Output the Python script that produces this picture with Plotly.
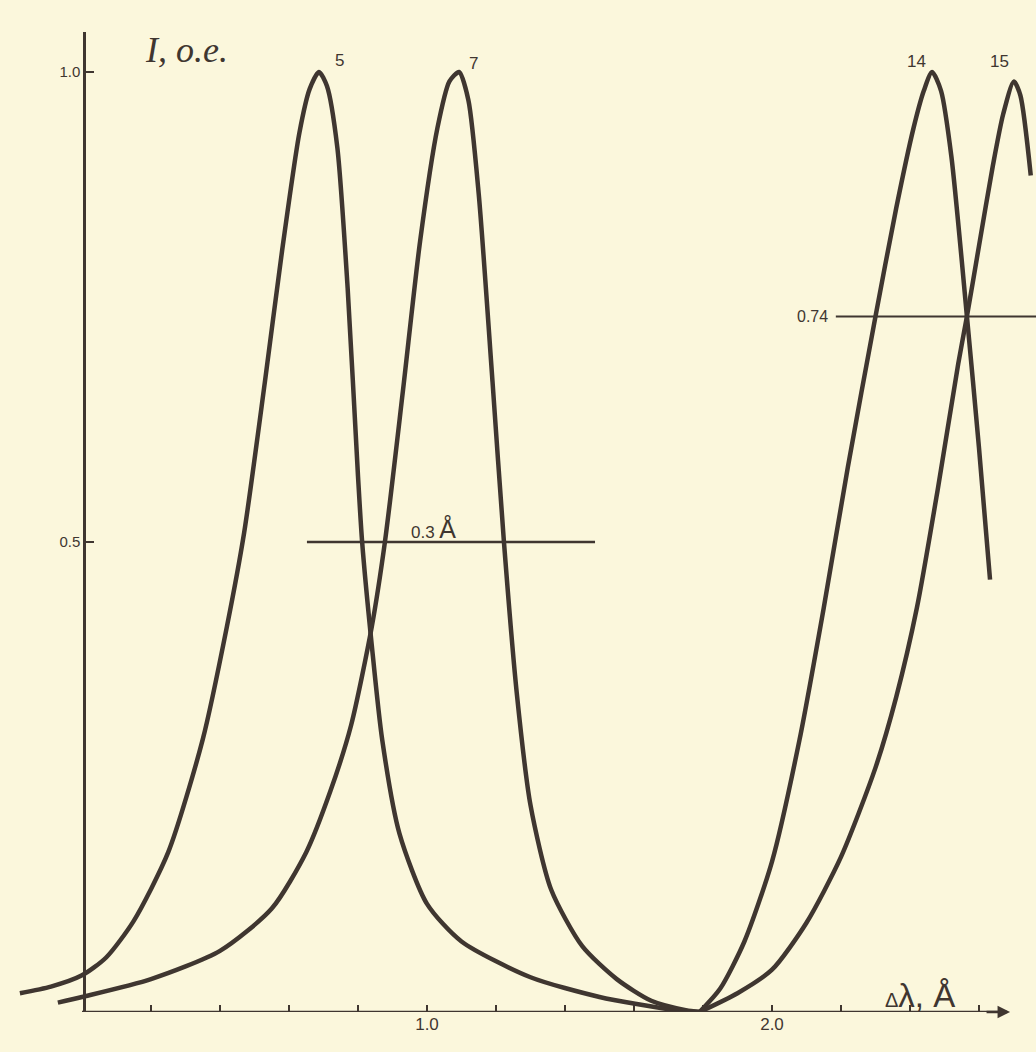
import plotly.graph_objects as go

# ---- data ----
x5 = [-0.18, -0.09, 0.0, 0.07, 0.15, 0.25, 0.35, 0.42, 0.47, 0.53, 0.58, 0.63, 0.66, 0.687, 0.71, 0.74, 0.77, 0.80, 0.812, 0.84, 0.87, 0.92, 1.0, 1.1, 1.3, 1.5, 1.7, 1.79]
y5 = [0.02, 0.027, 0.039, 0.058, 0.097, 0.17, 0.29, 0.41, 0.51, 0.67, 0.81, 0.935, 0.982, 1.0, 0.985, 0.92, 0.77, 0.57, 0.50, 0.39, 0.29, 0.19, 0.115, 0.075, 0.037, 0.016, 0.003, 0.0]

x7 = [-0.07, 0.0, 0.2, 0.4, 0.55, 0.65, 0.72, 0.78, 0.84, 0.878, 0.93, 0.98, 1.03, 1.065, 1.093, 1.12, 1.15, 1.19, 1.223, 1.26, 1.30, 1.36, 1.45, 1.55, 1.65, 1.75, 1.79]
y7 = [0.01, 0.016, 0.035, 0.065, 0.11, 0.17, 0.235, 0.305, 0.41, 0.50, 0.66, 0.82, 0.94, 0.99, 1.0, 0.97, 0.87, 0.67, 0.50, 0.34, 0.22, 0.13, 0.07, 0.035, 0.012, 0.002, 0.0]

x14 = [1.79, 1.85, 1.92, 2.0, 2.08, 2.15, 2.22, 2.30, 2.36, 2.41, 2.44, 2.464, 2.49, 2.52, 2.565, 2.60, 2.632]
y14 = [0.0, 0.025, 0.075, 0.16, 0.29, 0.43, 0.58, 0.74, 0.855, 0.94, 0.98, 1.0, 0.98, 0.91, 0.74, 0.60, 0.46]

x15 = [1.79, 1.9, 2.0, 2.1, 2.2, 2.3, 2.36, 2.42, 2.48, 2.54, 2.565, 2.6, 2.64, 2.67, 2.701, 2.72, 2.75]
y15 = [0.0, 0.02, 0.045, 0.095, 0.165, 0.26, 0.335, 0.43, 0.555, 0.69, 0.74, 0.815, 0.90, 0.955, 0.99, 0.975, 0.89]

curve_names = ["5", "7", "14", "15"]
peak_x = [0.687, 1.093, 2.464, 2.701]

x_tick_vals = [0.2, 0.4, 0.6, 0.8, 1.0, 1.2, 1.4, 1.6, 1.8, 2.0, 2.2, 2.4, 2.6]
x_tick_text = ["", "", "", "", "1.0", "", "", "", "", "2.0", "", "", ""]
y_tick_vals = [0.5, 1.0]
y_tick_text = ["0.5", "1.0"]

fwhm_level = 0.5
fwhm_x = [0.652, 1.487]
fwhm_label = "0.3"
level_074 = 0.74
level_074_x = [2.185, 2.8]

INK = "#3f3630"
BG = "#fbf7dc"

fig = go.Figure()
for xs, ys in [(x5, y5), (x7, y7), (x14, y14), (x15, y15)]:
    fig.add_trace(go.Scatter(x=xs, y=ys, mode="lines",
                             line=dict(color=INK, width=4.5, shape="spline", smoothing=0.7),
                             showlegend=False, hoverinfo="skip"))

# horizontal reference lines
fig.add_trace(go.Scatter(x=fwhm_x, y=[fwhm_level, fwhm_level], mode="lines",
                         line=dict(color=INK, width=2.5), showlegend=False, hoverinfo="skip"))
fig.add_trace(go.Scatter(x=level_074_x, y=[level_074, level_074], mode="lines",
                         line=dict(color=INK, width=2), showlegend=False, hoverinfo="skip"))

XR = [-82 / 345, (1036 - 82) / 345]
fig.update_layout(
    width=1036, height=1052,
    margin=dict(l=0, r=0, t=32, b=40),
    paper_bgcolor=BG, plot_bgcolor=BG,
    font=dict(family="Liberation Sans, Arial, sans-serif", color=INK),
    xaxis=dict(range=XR, showgrid=False, zeroline=False, showline=False,
               tickvals=x_tick_vals, ticktext=x_tick_text, ticks="inside",
               ticklen=7, tickwidth=2, tickcolor=INK, tickfont=dict(size=17)),
    yaxis=dict(range=[0, 980 / 940], showgrid=False, zeroline=False,
               anchor="free", position=84 / 1036, side="left",
               showline=True, linecolor=INK, linewidth=2.5,
               tickvals=y_tick_vals, ticktext=y_tick_text, ticks="inside",
               ticklen=8, tickwidth=2, tickcolor=INK, tickfont=dict(size=15)),
)

# x-axis line with arrow
fig.add_shape(type="line", x0=0, x1=2.68, y0=0, y1=0, line=dict(color=INK, width=2.5))
fig.add_annotation(x=2.69, y=0, ax=-25, ay=0, showarrow=True, arrowhead=2,
                   arrowsize=1, arrowwidth=2.5, arrowcolor=INK, text="")

# peak labels (placed beside each peak as in the original)
label_dx = [20, 14, -16, -14]
label_dy = [12, 9, 11, 11]
for name, px, dx, dy in zip(curve_names, peak_x, label_dx, label_dy):
    fig.add_annotation(x=px, y=1.0, text=name, showarrow=False, xshift=dx, yshift=dy,
                       font=dict(size=17, color=INK))

fig.add_annotation(x=1.02, y=fwhm_level, showarrow=False, yshift=14,
                   text=fwhm_label + " <span style='font-size:25px'>Å</span>",
                   font=dict(size=17, color=INK))
fig.add_annotation(x=level_074_x[0], y=level_074, text="0.74", showarrow=False,
                   xanchor="right", xshift=-6, font=dict(size=16, color=INK))

# axis titles
fig.add_annotation(x=(143 - 82) / 345, y=(1012 - 50) / 940, xanchor="left",
                   text="<i>I, o.e.</i>", showarrow=False,
                   font=dict(family="Liberation Serif, serif", size=36, color=INK))
fig.add_annotation(x=(920 - 82) / 345, y=(1012 - 995) / 940,
                   text="<span style='font-size:20px'>Δ</span>λ, Å", showarrow=False,
                   font=dict(family="Liberation Sans, sans-serif", size=33, color=INK))

fig.write_html("out.html", config={"displayModeBar": False},
               post_script="document.body.style.margin='0';document.body.style.background='#fbf7dc';document.body.style.overflow='hidden';")
